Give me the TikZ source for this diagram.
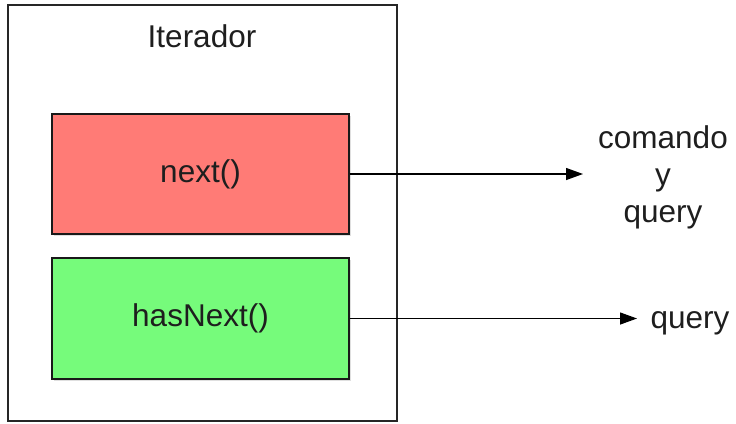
\documentclass[tikz,border=0pt]{standalone}
\usepackage{fontspec}
\setmainfont{Liberation Sans}
\usetikzlibrary{arrows.meta,shadows}
\definecolor{boxred}{HTML}{FF7B76}
\definecolor{boxgreen}{HTML}{76FB7B}
\definecolor{txt}{HTML}{1E1E1E}
\begin{document}
\begin{tikzpicture}[x=1pt,y=-1pt,
  every node/.style={text=txt,font=\fontsize{31.5}{37}\selectfont},
  frame/.style={draw=black!85,line width=1.4pt,minimum width=389pt,minimum height=416pt,inner sep=0pt},
  method/.style={draw=black!90,line width=1.4pt,minimum width=297pt,minimum height=120pt,inner sep=0pt,
    drop shadow={shadow xshift=1.5pt,shadow yshift=-2pt,opacity=0.25}},
  arr/.style={line width=1.3pt,draw=black,-{Triangle[length=17pt,width=12pt]}}
]
\useasboundingbox (0,0) rectangle (736,423);
\node[frame] (it) at (202.5,213) {};
\node[anchor=base] (ittitle) at (202,47) {Iterador};
\node[method,fill=boxred] (next) at (200.5,174) {next()};
\node[method,fill=boxgreen,minimum height=121pt] (has) at (200.5,318.5) {hasNext()};
\coordinate (t1) at (583,174);
\coordinate (t2) at (637,318.5);
\draw[arr] (next.east) -- (t1);
\draw[arr] (has.east) -- (t2);
\node[anchor=base,align=center] (cq) at (663,222) {comando\\y\\query};
\node[anchor=base] (q) at (690,328) {query};
\end{tikzpicture}
\end{document}
